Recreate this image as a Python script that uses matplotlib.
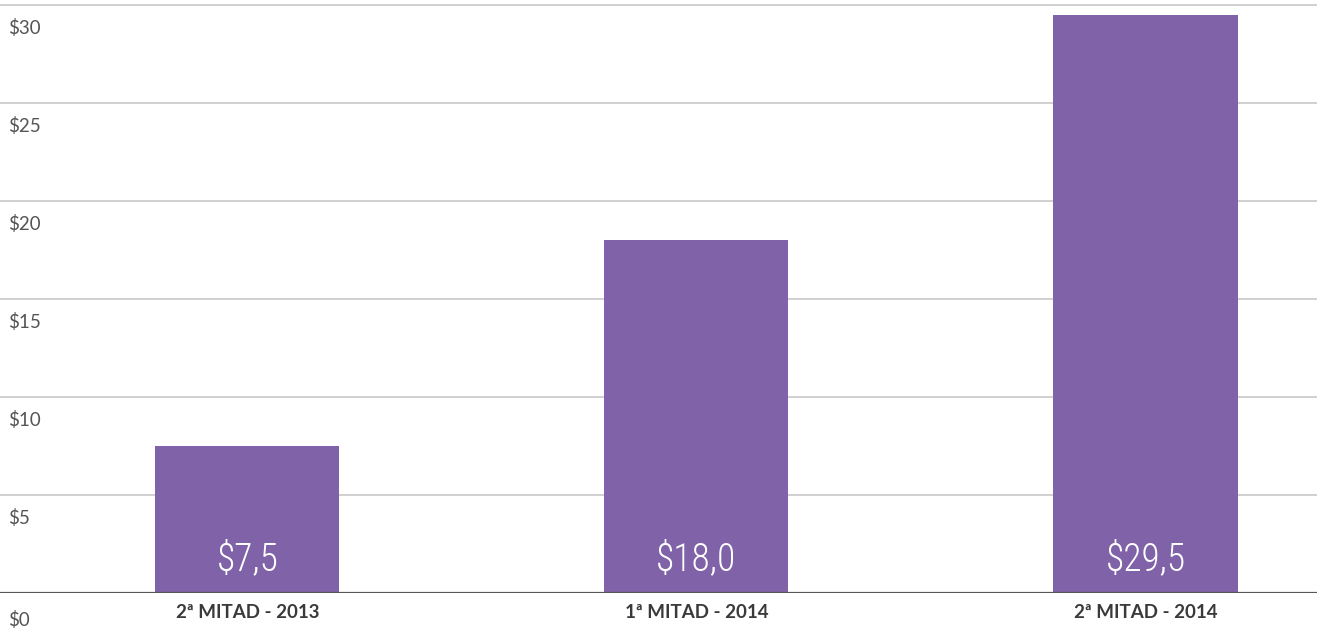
import matplotlib
matplotlib.use("Agg")
import matplotlib.pyplot as plt
from matplotlib.transforms import blended_transform_factory, ScaledTranslation

categories = ["2ª MITAD - 2013", "1ª MITAD - 2014", "2ª MITAD - 2014"]
values = [7.5, 18.0, 29.5]
value_labels = ["$7,5", "$18,0", "$29,5"]
y_ticks = [0, 5, 10, 15, 20, 25, 30]
y_tick_labels = ["$0", "$5", "$10", "$15", "$20", "$25", "$30"]

W, H, DPI = 1317, 629, 100
fig = plt.figure(figsize=(W / DPI, H / DPI), dpi=DPI)
bottom = (H - 593) / H
ax = fig.add_axes([0, bottom, 1, 1 - bottom])

bar_color = "#7f62a7"
x = list(range(len(values)))
ax.bar(x, values, width=0.41, color=bar_color, zorder=3)

ax.set_xlim(-0.551, 2.382)
ax.set_ylim(0, 30.26)

# horizontal gridlines
for v in y_ticks[1:]:
    ax.axhline(v, color="#c8c8c8", lw=1.2, zorder=1)
ax.axhline(0, color="#555555", lw=1.6, zorder=4)

for s in ax.spines.values():
    s.set_visible(False)
ax.set_xticks([])
ax.set_yticks([])

# y-axis labels sit just below each gridline, at the left edge
tr = blended_transform_factory(fig.transFigure, ax.transData)
for v, lab in zip(y_ticks, y_tick_labels):
    gap = 27 if v == 0 else 23
    down = ScaledTranslation(0, -gap / DPI, fig.dpi_scale_trans)
    ax.text(8 / W, v, lab, transform=tr + down, ha="left", va="center",
            fontsize=13.5, color="#555555", family=["Lato", "DejaVu Sans"])

# category labels under the bars
cat_tr = blended_transform_factory(ax.transData, fig.transFigure)
for xi, lab in zip(x, categories):
    ax.text(xi, (H - 612) / H, lab, transform=cat_tr, ha="center", va="center",
            fontsize=13.5, fontweight="bold", color="#3a3a3a",
            family=["Lato", "DejaVu Sans"])

# value labels inside the bars
up = ScaledTranslation(0, 23 / DPI, fig.dpi_scale_trans)
for xi, v, lab in zip(x, values, value_labels):
    ax.text(xi, 0, lab, transform=ax.transData + up, ha="center", va="baseline",
            fontsize=27, color="white", fontweight="light", zorder=5,
            fontstretch="condensed",
            family=["Roboto Condensed", "Roboto", "DejaVu Sans"])

fig.savefig("out.png", dpi=DPI)
